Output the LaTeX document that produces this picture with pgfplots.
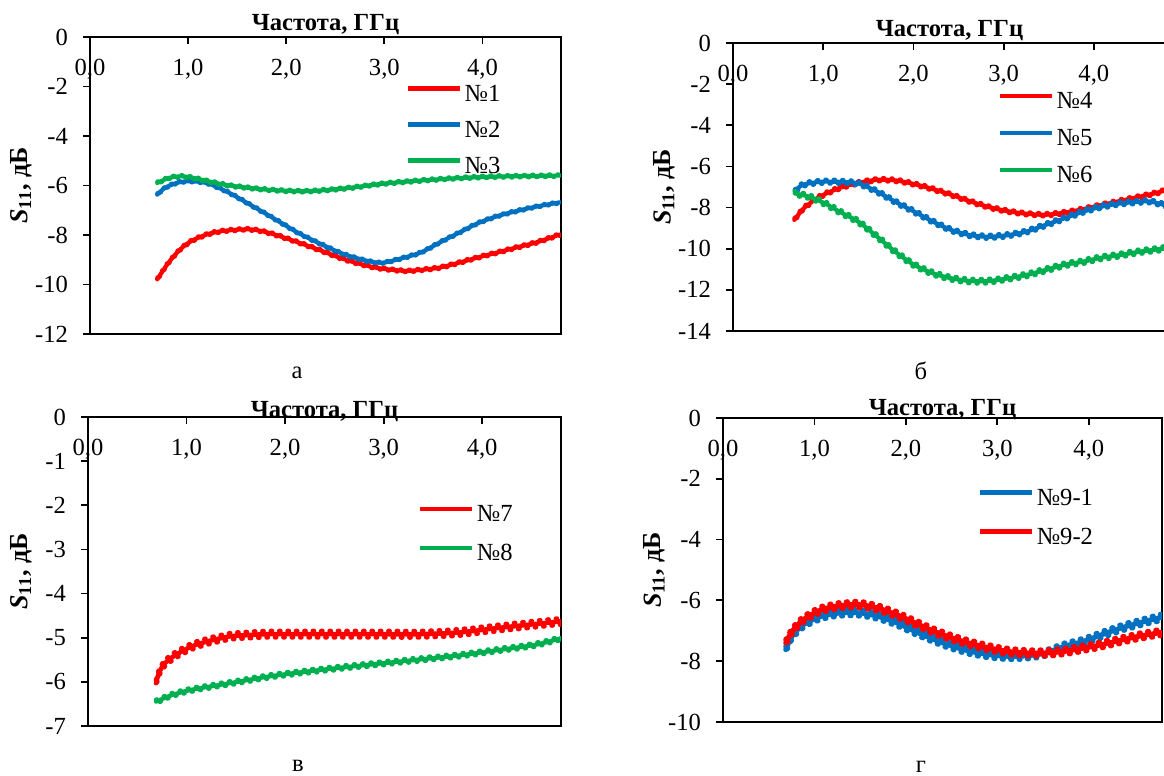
\documentclass[border=0pt]{standalone}
\usepackage{fontspec}
\setmainfont{Liberation Serif}
\usepackage{pgfplots}
\pgfplotsset{compat=1.18}

\definecolor{xred}{HTML}{FF0000}
\definecolor{xblue}{HTML}{0070C0}
\definecolor{xgreen}{HTML}{00B050}

\pgfplotsset{
  sparam/.style={
    scale only axis,
    xmin=0, xmax=4.8,
    xtick={0,1,2,3,4},
    xticklabels={{0,0},{1,0},{2,0},{3,0},{4,0}},
    xtick pos=right, xticklabel pos=right,
    ytick pos=left, yticklabel pos=left,
    xtick align=inside, ytick align=outside,
    major tick length=3.5pt,
    xticklabel style={anchor=north, yshift=-7.75pt},
    yticklabel style={anchor=east, xshift=-4pt},
    axis line style={line width=0.9pt},
    every tick/.style={black, line width=0.9pt},
    font=\fontsize{12.3}{14}\selectfont,
    title style={at={(0.5,1)}, anchor=base, font=\fontsize{12.3}{14}\selectfont\bfseries},
    ylabel style={anchor=center, font=\fontsize{13}{15}\selectfont\bfseries},
    legend style={draw=none, fill=none, inner sep=0pt, anchor=north west,
      nodes={inner xsep=1.3pt, inner ysep=0pt, text height=9pt, text depth=3pt}},
    legend cell align=left,
    legend image code/.code={\draw[#1, line width=2.3pt] (0pt,3.5pt) -- (26pt,3.5pt);},
  },
  % ripple look: core line plus two dashed strokes shifted up and down, half a period apart
  ripple/.style={smooth, line width=2.1pt, line cap=round, line join=round, forget plot,
    postaction={draw, dash pattern=on 0.6pt off 3.6pt, transform canvas={yshift=#1}},
    postaction={draw, dash pattern=on 0.6pt off 3.6pt, dash phase=2.1pt, transform canvas={yshift=-#1}}},
}

\begin{document}
\begin{tikzpicture}
\path[use as bounding box] (0,0) rectangle (582pt,388pt);

% а
\begin{axis}[sparam, at={(45pt,221pt)}, anchor=south west,
  width=235.5pt, height=148.5pt,
  ymin=-12, ymax=0, ytick={0,-2,-4,-6,-8,-10,-12},
  yticklabels={0,-2,-4,-6,-8,-10,-12},
  title={Частота, ГГц}, title style={yshift=-3pt},
  ylabel={\textit{S}\textsubscript{11}, дБ},
  ylabel style={at={(axis description cs:-0.1465,0.5)}},
  legend style={at={(axis description cs:0.669,0.844)}, row sep=6pt}]
\addlegendimage{xred}\addlegendentry{№1}
\addlegendimage{xblue}\addlegendentry{№2}
\addlegendimage{xgreen}\addlegendentry{№3}
\addplot[xred, ripple=0.6pt] coordinates {
(0.685,-9.79) (0.80,-9.12) (0.92,-8.58) (1.035,-8.24) (1.19,-7.98) (1.35,-7.84)
(1.62,-7.77) (1.81,-7.9) (2.05,-8.2) (2.32,-8.58) (2.59,-8.98) (2.83,-9.25)
(2.98,-9.36) (3.21,-9.45) (3.37,-9.41) (3.56,-9.32) (3.76,-9.12) (3.95,-8.91)
(4.15,-8.71) (4.34,-8.51) (4.54,-8.31) (4.79,-7.98)};
\addplot[xblue, ripple=0.5pt] coordinates {
(0.685,-6.37) (0.763,-6.1) (0.88,-5.9) (1.0,-5.83) (1.19,-5.9) (1.42,-6.3)
(1.66,-6.84) (1.89,-7.37) (2.12,-7.91) (2.36,-8.38) (2.59,-8.78) (2.83,-9.05)
(2.98,-9.12) (3.14,-8.98) (3.37,-8.71) (3.56,-8.31) (3.76,-7.91) (3.95,-7.53)
(4.15,-7.24) (4.34,-7.04) (4.54,-6.86) (4.79,-6.68)};
\addplot[xgreen, ripple=0.6pt] coordinates {
(0.685,-5.9) (0.80,-5.7) (0.92,-5.63) (1.035,-5.68) (1.23,-5.85) (1.42,-6.0)
(1.81,-6.17) (2.2,-6.23) (2.59,-6.12) (2.98,-5.93) (3.37,-5.8) (3.76,-5.7)
(4.15,-5.64) (4.79,-5.6)};
\end{axis}

% б
\begin{axis}[sparam, at={(366.5pt,222.5pt)}, anchor=south west,
  width=216.5pt, height=144pt,
  ymin=-14, ymax=0, ytick={0,-2,-4,-6,-8,-10,-12,-14},
  yticklabels={0,-2,-4,-6,-8,-10,-12,-14},
  title={Частота, ГГц}, title style={yshift=-3pt},
  ylabel={\textit{S}\textsubscript{11}, дБ},
  ylabel style={at={(axis description cs:-0.159,0.5)}},
  legend style={at={(axis description cs:0.610,0.835)}, row sep=6.5pt}]
\addlegendimage{xred}\addlegendentry{№4}
\addlegendimage{xblue}\addlegendentry{№5}
\addlegendimage{xgreen}\addlegendentry{№6}
\addplot[xred, ripple=0.8pt] coordinates {
(0.68,-8.6) (0.77,-8.1) (0.85,-7.8) (0.97,-7.45) (1.18,-7.05) (1.39,-6.8)
(1.6,-6.65) (1.8,-6.68) (2.0,-6.85) (2.2,-7.08) (2.42,-7.38) (2.63,-7.7)
(2.84,-7.98) (3.05,-8.18) (3.25,-8.3) (3.46,-8.35) (3.67,-8.25) (3.88,-8.08)
(4.08,-7.88) (4.29,-7.68) (4.5,-7.48) (4.7,-7.28) (4.8,-7.15)};
\addplot[xblue, ripple=1.0pt] coordinates {
(0.684,-7.23) (0.77,-6.9) (0.97,-6.75) (1.18,-6.75) (1.39,-6.83) (1.6,-7.23)
(1.8,-7.72) (2.01,-8.2) (2.22,-8.69) (2.42,-9.09) (2.63,-9.34) (2.84,-9.42)
(3.05,-9.34) (3.25,-9.17) (3.46,-8.85) (3.67,-8.53) (3.88,-8.2) (4.08,-7.96)
(4.29,-7.8) (4.5,-7.72) (4.62,-7.7) (4.8,-7.9)};
\addplot[xgreen, ripple=1.15pt] coordinates {
(0.684,-7.31) (0.85,-7.48) (1.02,-7.8) (1.18,-8.2) (1.39,-8.69) (1.6,-9.42)
(1.8,-10.15) (2.01,-10.79) (2.22,-11.2) (2.42,-11.44) (2.63,-11.57) (2.84,-11.57)
(3.05,-11.44) (3.25,-11.28) (3.46,-11.04) (3.67,-10.79) (3.88,-10.63) (4.08,-10.44)
(4.29,-10.31) (4.5,-10.15) (4.8,-9.98)};
\end{axis}

% в
\begin{axis}[sparam, at={(44pt,25pt)}, anchor=south west,
  width=236.5pt, height=154.5pt,
  ymin=-7, ymax=0, ytick={0,-1,-2,-3,-4,-5,-6,-7},
  yticklabels={0,-1,-2,-3,-4,-5,-6,-7},
  title={Частота, ГГц}, title style={yshift=-6pt},
  ylabel={\textit{S}\textsubscript{11}, дБ},
  ylabel style={at={(axis description cs:-0.1417,0.5)}},
  legend style={at={(axis description cs:0.696,0.72)}, row sep=7.5pt}]
\addlegendimage{xred}\addlegendentry{№7}
\addlegendimage{xgreen}\addlegendentry{№8}
\addplot[xred, ripple=1.6pt, line width=2.3pt] coordinates {
(0.69,-6.03) (0.72,-5.8) (0.78,-5.58) (0.89,-5.39) (1.05,-5.2) (1.2,-5.09)
(1.44,-4.97) (1.63,-4.94) (1.83,-4.92) (2.21,-4.92) (2.6,-4.92) (2.99,-4.92)
(3.38,-4.92) (3.77,-4.88) (4.16,-4.78) (4.54,-4.69) (4.8,-4.63)};
\addplot[xgreen, ripple=1.0pt] coordinates {
(0.69,-6.45) (0.85,-6.3) (1.05,-6.18) (1.44,-6.03) (1.83,-5.88) (2.21,-5.77)
(2.6,-5.67) (2.99,-5.58) (3.38,-5.49) (3.77,-5.4) (4.16,-5.28) (4.54,-5.16)
(4.8,-5.01)};
\end{axis}

% г
\begin{axis}[sparam, at={(361.5pt,27pt)}, anchor=south west,
  width=219.5pt, height=152pt,
  ymin=-10, ymax=0, ytick={0,-2,-4,-6,-8,-10},
  yticklabels={0,-2,-4,-6,-8,-10},
  title={Частота, ГГц}, title style={yshift=-5pt},
  ylabel={\textit{S}\textsubscript{11}, дБ},
  ylabel style={at={(axis description cs:-0.156,0.5)}},
  legend style={at={(axis description cs:0.579,0.772)}, row sep=7.5pt}]
\addlegendimage{xblue}\addlegendentry{№9-1}
\addlegendimage{xred}\addlegendentry{№9-2}
\addplot[xblue, ripple=1.6pt, line width=2.5pt] coordinates {
(0.686,-7.62) (0.755,-7.18) (0.88,-6.8) (1.08,-6.52) (1.29,-6.41) (1.49,-6.41)
(1.69,-6.52) (1.9,-6.74) (2.1,-7.02) (2.31,-7.29) (2.51,-7.51) (2.71,-7.68)
(2.92,-7.79) (3.12,-7.84) (3.33,-7.82) (3.53,-7.73) (3.73,-7.51) (3.94,-7.35)
(4.14,-7.13) (4.35,-6.91) (4.55,-6.74) (4.8,-6.55)};
\addplot[xred, ripple=1.6pt, line width=2.5pt] coordinates {
(0.686,-7.4) (0.755,-7.02) (0.88,-6.63) (1.08,-6.3) (1.29,-6.17) (1.49,-6.14)
(1.69,-6.25) (1.9,-6.47) (2.1,-6.74) (2.31,-7.02) (2.51,-7.24) (2.71,-7.42)
(2.92,-7.57) (3.12,-7.68) (3.33,-7.73) (3.53,-7.73) (3.73,-7.68) (3.94,-7.57)
(4.14,-7.46) (4.35,-7.31) (4.55,-7.18) (4.8,-7.05)};
\end{axis}

\node[anchor=base, font=\fontsize{12.3}{14}\selectfont] at (148.5pt,198.5pt) {а};
\node[anchor=base, font=\fontsize{12.3}{14}\selectfont] at (460.5pt,198pt) {б};
\node[anchor=base, font=\fontsize{12.3}{14}\selectfont] at (149pt,2pt) {в};
\node[anchor=base, font=\fontsize{12.3}{14}\selectfont] at (460.5pt,1.5pt) {г};
\end{tikzpicture}
\end{document}
